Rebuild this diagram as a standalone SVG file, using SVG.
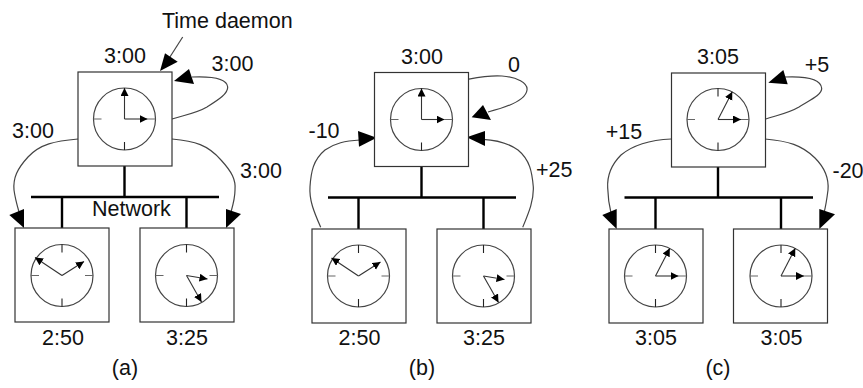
<svg xmlns="http://www.w3.org/2000/svg" xmlns:xlink="http://www.w3.org/1999/xlink" width="863" height="388" viewBox="0 0 863 388">
<style>
text{font-family:"Liberation Sans",Arial,sans-serif;font-size:21.5px;fill:#111}
.m{text-anchor:middle}
.box{fill:#fff;stroke:#333;stroke-width:1.2}
.face{fill:none;stroke:#444;stroke-width:1.2}
.tick{stroke:#222;stroke-width:1.1;fill:none}
.tg{stroke:#666;stroke-width:1.1;fill:none}
.hand{stroke:#333;stroke-width:1.1;fill:none;marker-end:url(#h)}
.wire{stroke:#000;stroke-width:2.4;fill:none}
.cv{stroke:#444;stroke-width:1.2;fill:none}
.head{fill:#000;stroke:none}
</style>
<defs>
<marker id="h" markerUnits="userSpaceOnUse" markerWidth="9" markerHeight="9" refX="8" refY="4" orient="auto"><path d="M0 0L8 4L0 8Z" fill="#000"/></marker>
<g id="face"><circle class="face" r="31"/><path class="tick" d="M0 -31V-23M0 31V23"/><path class="tg" d="M-31 0H-23M31 0H23"/></g>
<g id="t300"><use xlink:href="#face" href="#face"/><path class="hand" d="M0 0V-31"/><path class="hand" d="M0 0H23"/></g>
<g id="t250"><use xlink:href="#face" href="#face"/><path class="hand" d="M0 0L-27 -18"/><path class="hand" d="M0 0L22 -14"/></g>
<g id="t325"><use xlink:href="#face" href="#face"/><path class="hand" d="M0 0L21 3.5"/><path class="hand" d="M0 0L15 26.5"/></g>
<g id="t305"><use xlink:href="#face" href="#face"/><path class="hand" d="M0 0L14.3 -27.7"/><path class="hand" d="M0 0H23"/></g>
</defs>
<rect width="863" height="388" fill="#fff"/>
<g id="connectors">
<path class="wire" d="M31 197H219M124.5 166V197M62 197V228M186.5 197V228"/>
<path class="wire" d="M328 197.500H516M421.500 166V197.500M358.500 197.500V229M483.500 197.500V229"/>
<path class="wire" d="M624.500 197.500H813M718 167V197.500M655.500 197.500V229M781 197.500V229"/>
<path class="cv" d="M182.700 37L168 60"/>
<polygon class="head" points="160,71 165,53.300 177.700,61.700"/>
<path class="cv" d="M172 119C185 115 197 113 207 107C218 100 228 94 227.700 87C227 79 215 76 192 77"/>
<polygon class="head" points="174,81 189,69 194,84"/>
<path class="cv" d="M78 139C55 141 40 144 28 157C17 169 13 178 14 190C15 198 17 205 19 212"/>
<polygon class="head" points="24,228 9.300,215 24,209"/>
<path class="cv" d="M172 139C195 141 208 145 221 160C232 172 236 180 235 190C235 198 233 205 231 212"/>
<polygon class="head" points="226,228 226,209 241,214"/>
<path class="cv" d="M468 79.300C480 77 490 75 502 76C517 77 528 83 527 90C526 99 512 106 488 112"/>
<polygon class="head" points="471.700,117.300 483,105 491,120"/>
<path class="cv" d="M320.700 227.300C314 212 309 200 310 186.700C311 172 313 160 325 150C335 143 345 141 360 140"/>
<polygon class="head" points="376.700,137.700 358,131 359,146.700"/>
<path class="cv" d="M522.700 227.300C529 212 534 200 533.300 186.700C532 172 530 160 518 150C508 143 498 140 483 139.300"/>
<polygon class="head" points="466.700,137.300 485,131 485,146"/>
<path class="cv" d="M765 119.300C778 115 789 113 799 107C810 100 822 95 821.700 88.300C821 80 808 76 785 77"/>
<polygon class="head" points="768.300,82.700 783.300,70 787.700,84.300"/>
<path class="cv" d="M671.300 139C650 140 633 145 621 155C611 165 607 176 607.700 188C608 198 609 205 611 213"/>
<polygon class="head" points="616.700,229 602.300,215 616.700,209"/>
<path class="cv" d="M765 139C788 141 802 145 815 158C825 168 829 178 828 190C827 198 826 205 824 213"/>
<polygon class="head" points="819.300,229 819.300,209 835,214.300"/>
</g>
<g id="a-daemon"><rect class="box" x="78" y="72" width="94" height="94"/><use xlink:href="#t300" href="#t300" x="124.500" y="119"/><text class="m" x="125" y="63">3:00</text></g>
<g id="a-left"><rect class="box" x="15" y="228" width="94" height="94"/><use xlink:href="#t250" href="#t250" x="62" y="275.500"/><text class="m" x="63" y="345">2:50</text></g>
<g id="a-right"><rect class="box" x="140" y="228" width="94" height="94"/><use xlink:href="#t325" href="#t325" x="186.500" y="275.500"/><text class="m" x="187" y="345">3:25</text></g>
<g id="b-daemon"><rect class="box" x="374.500" y="72.500" width="94" height="94"/><use xlink:href="#t300" href="#t300" x="421.500" y="119.500"/><text class="m" x="422" y="64">3:00</text></g>
<g id="b-left"><rect class="box" x="312" y="229" width="94" height="94"/><use xlink:href="#t250" href="#t250" x="358.500" y="276"/><text class="m" x="359.500" y="345">2:50</text></g>
<g id="b-right"><rect class="box" x="437" y="229" width="94" height="94"/><use xlink:href="#t325" href="#t325" x="483.500" y="276"/><text class="m" x="484" y="345">3:25</text></g>
<g id="c-daemon"><rect class="box" x="671.500" y="73" width="94" height="94"/><use xlink:href="#t305" href="#t305" x="718" y="119.500"/><text class="m" x="718" y="64">3:05</text></g>
<g id="c-left"><rect class="box" x="609" y="229" width="94" height="94"/><use xlink:href="#t305" href="#t305" x="655.500" y="276"/><text class="m" x="656" y="345">3:05</text></g>
<g id="c-right"><rect class="box" x="733.500" y="229" width="94" height="94"/><use xlink:href="#t305" href="#t305" x="781" y="276"/><text class="m" x="781.500" y="345">3:05</text></g>
<g id="labels">
<text x="162" y="28">Time daemon</text>
<text x="211.500" y="71">3:00</text>
<text x="12" y="138">3:00</text>
<text x="240" y="178">3:00</text>
<text x="92" y="216">Network</text>
<text class="m" x="125" y="375">(a)</text>
<text class="m" x="514" y="72">0</text>
<text x="308.500" y="138">-10</text>
<text x="536" y="177">+25</text>
<text class="m" x="422" y="375">(b)</text>
<text class="m" x="817" y="72">+5</text>
<text class="m" x="624" y="139">+15</text>
<text x="832.500" y="178">-20</text>
<text class="m" x="718" y="375">(c)</text>
</g>
</svg>
